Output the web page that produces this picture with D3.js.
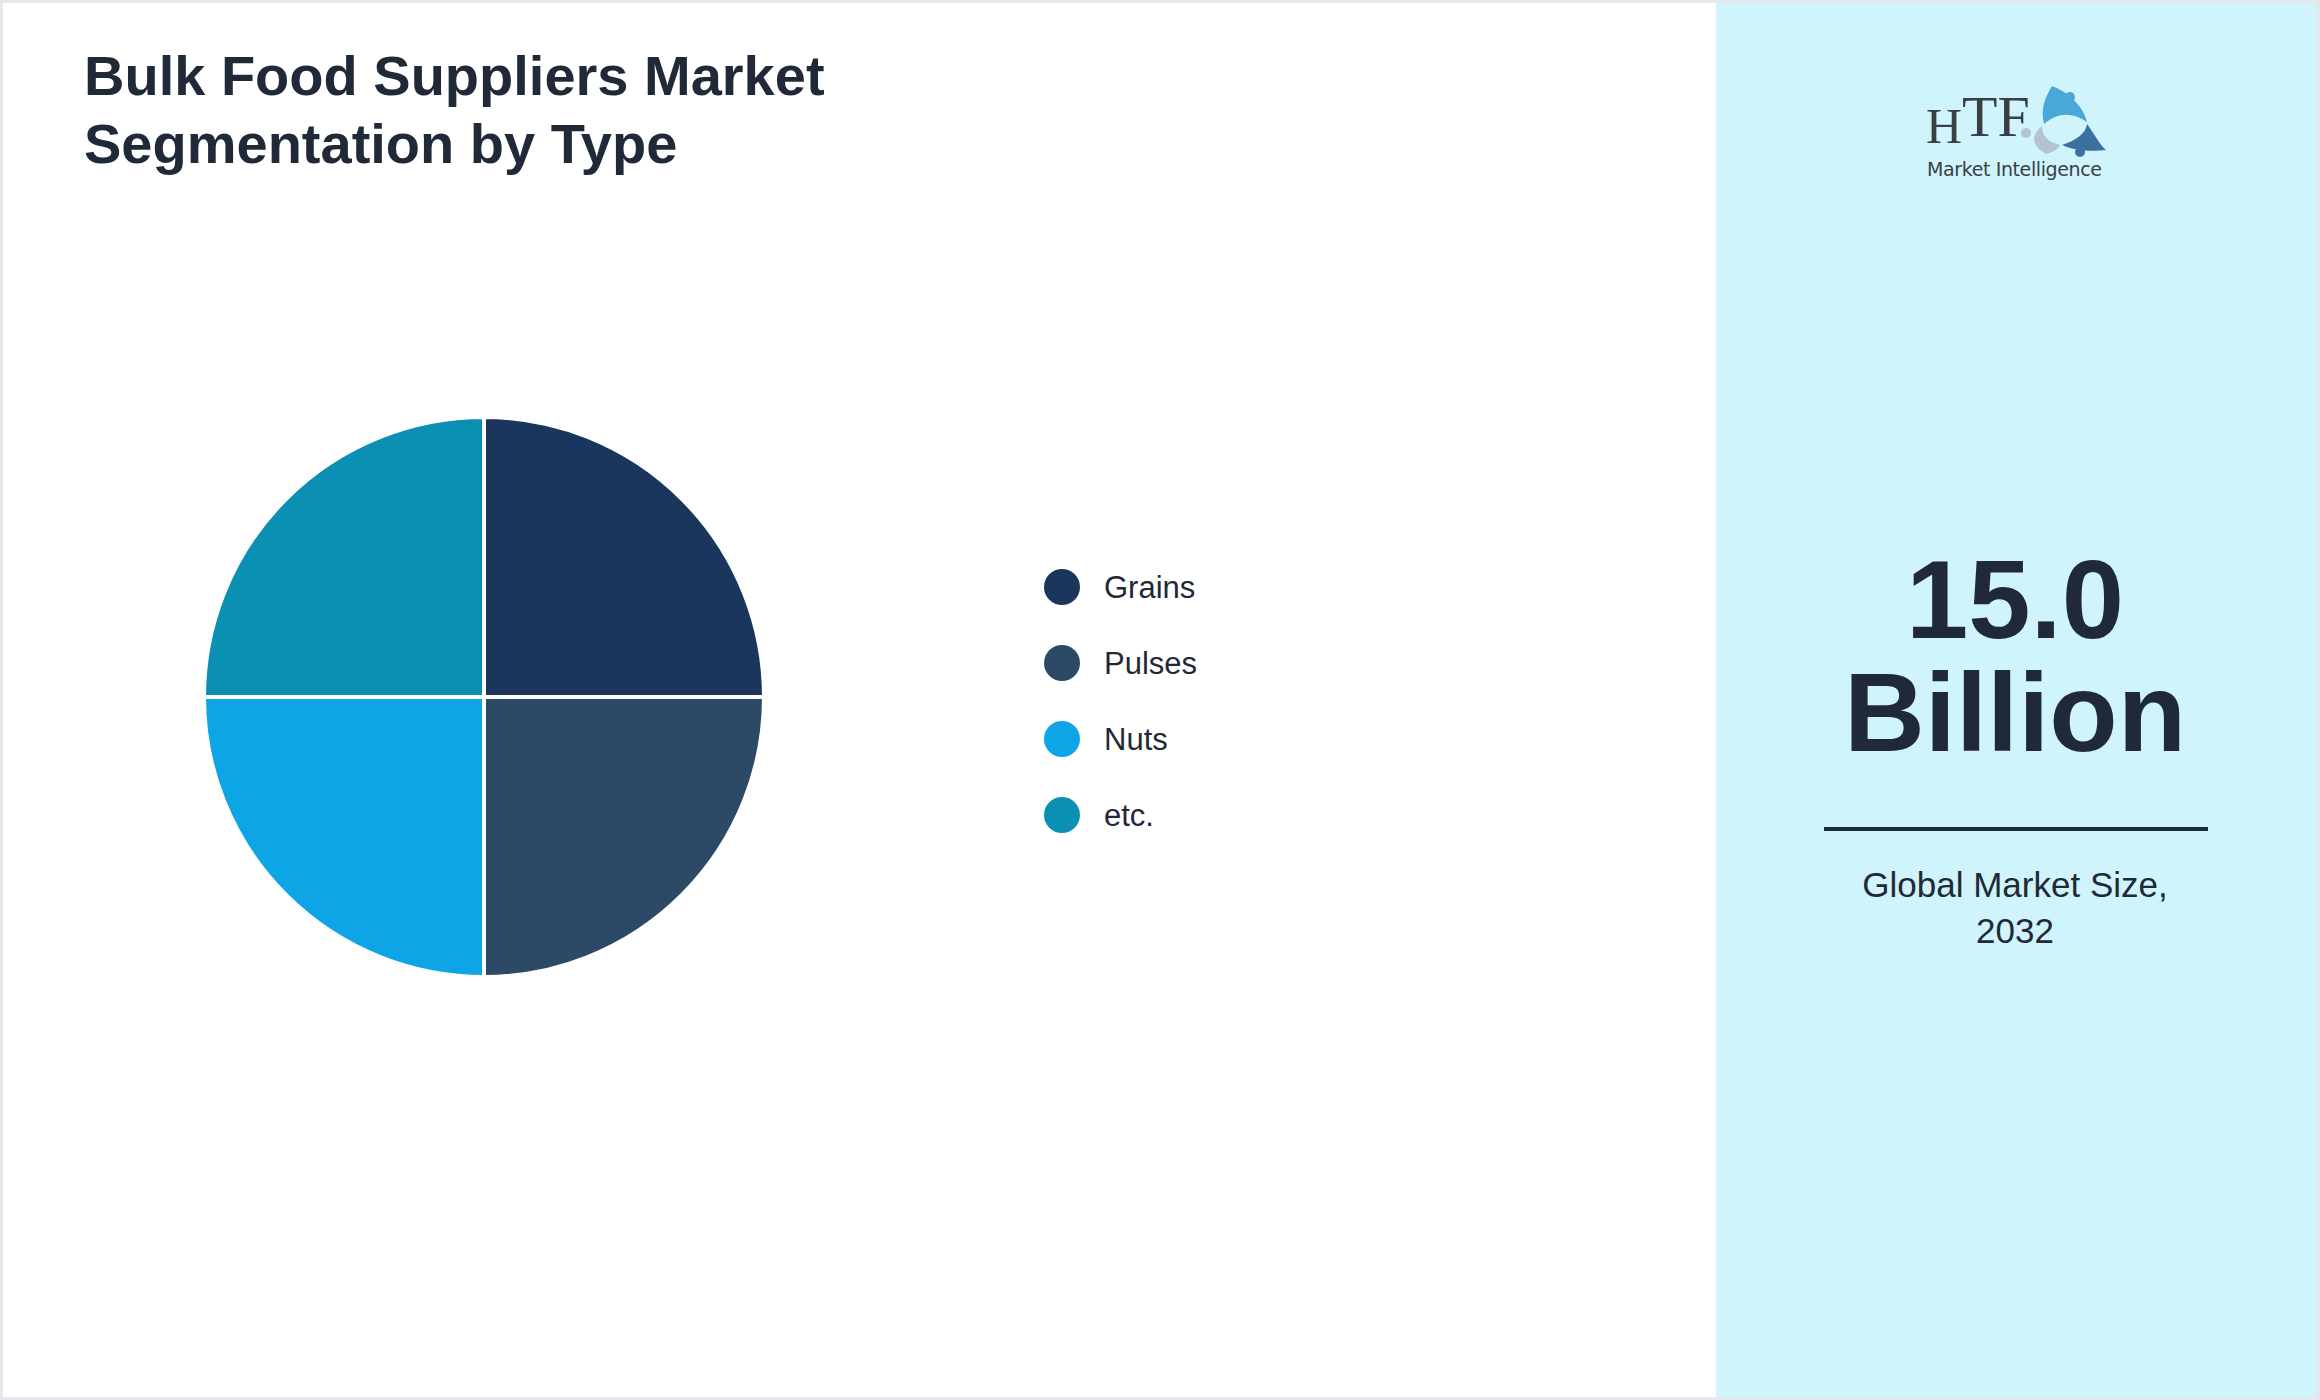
<!DOCTYPE html>
<html><head><meta charset="utf-8">
<script src="https://cdn.jsdelivr.net/npm/d3@7"></script>
<style>body{margin:0;background:#fff}svg{display:block}</style>
</head><body>
<script>
const categories = ["Grains","Pulses","Nuts","etc."];
const values = [25,25,25,25];
const colors = ["#1b365d","#2c4a66","#0ea5e6","#0b8fb3"];
const marketValue = "15.0";
const marketUnit = "Billion";
const marketLabel = ["Global Market Size,","2032"];
const titleLines = ["Bulk Food Suppliers Market","Segmentation by Type"];

const W=2320,H=1400;
const svg=d3.select("body").append("svg").attr("width",W).attr("height",H);
svg.append("rect").attr("x",1.5).attr("y",1.5).attr("width",W-3).attr("height",H-3).attr("fill","#fff").attr("stroke","#e5e7eb").attr("stroke-width",3);
svg.append("rect").attr("x",1716).attr("y",3).attr("width",W-1716-3).attr("height",H-6).attr("fill","#cff4fc");

svg.selectAll("text.title").data(titleLines).enter().append("text")
 .attr("x",84).attr("y",(d,i)=>95+i*68).text(d=>d)
 .attr("font-family","Liberation Sans, Arial, sans-serif").attr("font-weight","bold").attr("font-size",56).attr("fill","#1f2937");

const pie=d3.pie().sort(null).value(d=>d)(values);
const arc=d3.arc().innerRadius(0).outerRadius(280);
const g=svg.append("g").attr("transform","translate(484,697)");
g.selectAll("path").data(pie).enter().append("path").attr("d",arc)
 .attr("fill",(d,i)=>colors[i]).attr("stroke","#fff").attr("stroke-width",4);

const y=d3.scalePoint().domain(categories).range([587,815]);
const lg=svg.append("g");
lg.selectAll("circle").data(categories).enter().append("circle")
 .attr("cx",1062).attr("cy",d=>y(d)).attr("r",18).attr("fill",(d,i)=>colors[i]);
lg.selectAll("text").data(categories).enter().append("text")
 .attr("x",1104).attr("y",d=>y(d)+11).text(d=>d)
 .attr("font-family","Liberation Sans, Arial, sans-serif").attr("font-size",31).attr("fill","#1f2937");

const tf="Liberation Sans, Arial, sans-serif";
svg.append("text").attr("x",2015).attr("y",638).attr("text-anchor","middle").text(marketValue)
 .attr("font-family",tf).attr("font-weight","bold").attr("font-size",112).attr("fill","#1f2937");
svg.append("text").attr("x",2015).attr("y",751).attr("text-anchor","middle").text(marketUnit)
 .attr("font-family",tf).attr("font-weight","bold").attr("font-size",112).attr("fill","#1f2937");
svg.append("line").attr("x1",1824).attr("x2",2208).attr("y1",829).attr("y2",829).attr("stroke","#1f2937").attr("stroke-width",4);
svg.selectAll("text.lab").data(marketLabel).enter().append("text")
 .attr("x",2015).attr("y",(d,i)=>897+i*46).attr("text-anchor","middle").text(d=>d)
 .attr("font-family",tf).attr("font-size",35).attr("fill","#1f2937");

// logo
const lo=svg.append("g");
lo.append("text").attr("x",1926).attr("y",143).text("H").attr("font-family","Liberation Serif, serif").attr("font-size",50).attr("fill","#3a3f44");
lo.append("text").attr("x",1962).attr("y",136).text("TF").attr("font-family","Liberation Serif, serif").attr("font-size",58).attr("fill","#3a3f44");
lo.append("text").attr("x",1927).attr("y",176).text("Market Intelligence").attr("font-family","DejaVu Sans, sans-serif").attr("font-size",19).attr("fill","#3a3f44").attr("textLength",175);
lo.append("path").attr("d","M2052,86 C2075,95 2085,112 2087,122 C2072,112 2058,112 2044,124 C2040,108 2046,96 2052,86Z").attr("fill","#4aa8d8");
lo.append("path").attr("d","M2087,124 C2095,135 2100,145 2106,150 C2090,152 2072,150 2062,145 C2077,140 2086,133 2087,124Z").attr("fill","#3b6f9e");
lo.append("path").attr("d","M2042,126 C2030,136 2032,146 2046,154 C2055,152 2060,147 2060,145 C2048,142 2042,136 2042,126Z").attr("fill","#b4c3d3");
lo.append("circle").attr("cx",2070).attr("cy",97).attr("r",5).attr("fill","#4aa8d8");
lo.append("circle").attr("cx",2080).attr("cy",152).attr("r",5).attr("fill","#3b6f9e");
lo.append("circle").attr("cx",2026).attr("cy",133).attr("r",5).attr("fill","#b4c3d3");
</script>
</body></html>
